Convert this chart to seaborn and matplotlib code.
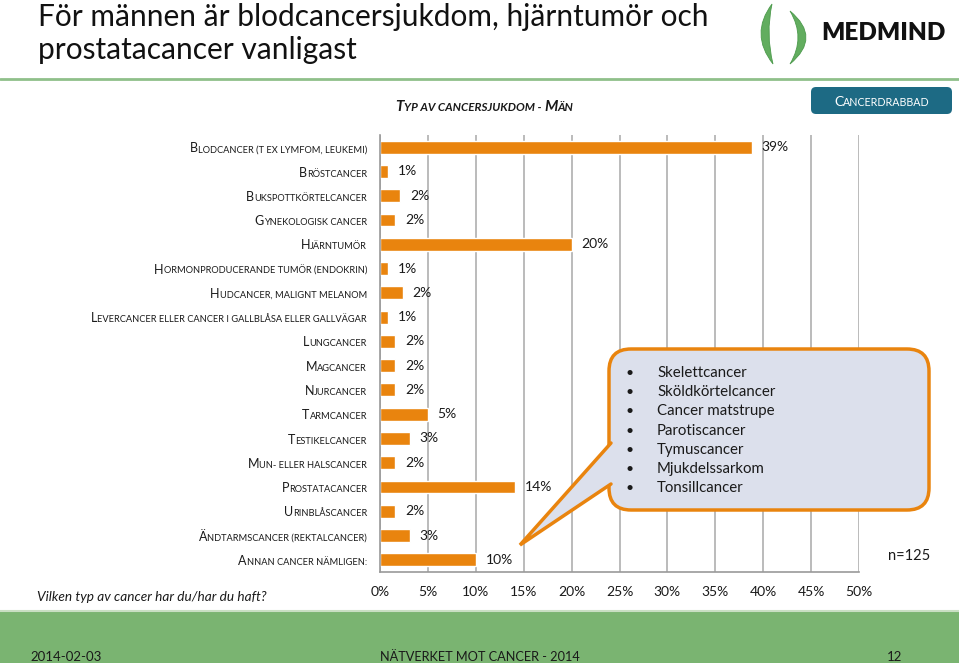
import numpy as np
import pandas as pd
import matplotlib
matplotlib.use('Agg')
import matplotlib.pyplot as plt
import matplotlib.patches as mpatches
import matplotlib.transforms as mtransforms
from matplotlib.path import Path
import seaborn as sns

# data (andel av männen, %)
categories = ['Blodcancer (t ex lymfom, leukemi)', 'Bröstcancer', 'Bukspottkörtelcancer',
              'Gynekologisk cancer', 'Hjärntumör', 'Hormonproducerande tumör (endokrin)',
              'Hudcancer, malignt melanom', 'Levercancer eller cancer i gallblåsa eller gallvägar',
              'Lungcancer', 'Magcancer', 'Njurcancer', 'Tarmcancer', 'Testikelcancer',
              'Mun- eller halscancer', 'Prostatacancer', 'Urinblåscancer',
              'Ändtarmscancer (rektalcancer)', 'Annan cancer nämligen:']
values = [38.8, 0.8, 2.1, 1.6, 20.0, 0.8, 2.4, 0.8, 1.6, 1.6, 1.6, 5.0, 3.1, 1.6, 14.1, 1.6, 3.1, 10.0]
value_labels = ['39%', '1%', '2%', '2%', '20%', '1%', '2%', '1%', '2%', '2%', '2%', '5%', '3%',
                '2%', '14%', '2%', '3%', '10%']
x_ticks = [0, 5, 10, 15, 20, 25, 30, 35, 40, 45, 50]
x_tick_labels = ['0%', '5%', '10%', '15%', '20%', '25%', '30%', '35%', '40%', '45%', '50%']
other_cancers = ['Skelettcancer', 'Sköldkörtelcancer', 'Cancer matstrupe', 'Parotiscancer',
                 'Tymuscancer', 'Mjukdelssarkom', 'Tonsillcancer']

BAR = '#E9840E'
GRID = '#b5b5b5'
TXT = '#1a1a1a'
W, H = 959, 663

sns.set_style('white')
plt.rcParams['font.family'] = ['Lato', 'DejaVu Sans']

fig = plt.figure(figsize=(W / 100, H / 100), dpi=100)
pix = mtransforms.Affine2D().scale(1 / W, 1 / H) + fig.transFigure  # pixel coords, y up


def runs_of(s):
    # split into (text, big?) runs for small caps
    out = []
    for ch in s:
        big = ch.isupper()
        c = ch.upper()
        if out and out[-1][1] == big:
            out[-1][0] += c
        else:
            out.append([c, big])
    return out


def smallcaps(ax, x, y, s, big, small, transform, ha='left', **kw):
    parts = runs_of(s)
    if ha == 'right':
        parts = parts[::-1]
    prev = None
    prev_space = False
    for txt, isbig in parts:
        size = big if isbig else small
        off = small * 0.26 if (ha == 'left' and prev_space) else 0
        prev_space = txt.endswith(' ')
        if ha == 'left':
            txt = txt.rstrip(' ')
        if prev is None:
            prev = ax.text(x, y, txt, transform=transform, ha=ha, va='baseline',
                           fontsize=size, **kw)
        else:
            prev = ax.annotate(txt, xy=(1 if ha == 'left' else 0, y),
                               xycoords=(prev, transform), xytext=(off, 0),
                               textcoords='offset points', ha=ha, va='baseline',
                               fontsize=size, annotation_clip=False, **kw)
    return prev


# ---------- chart ----------
ax = fig.add_axes([380 / W, 1 - 572 / H, 479 / W, 437 / H])
df = pd.DataFrame({'typ': categories, 'andel': values})
sns.barplot(data=df, x='andel', y='typ', orient='h', color=BAR, saturation=1,
            width=0.53, ax=ax)
ax.set_xlim(0, 50)
ax.set_xlabel('')
ax.set_ylabel('')
ax.set_xticks(x_ticks)
ax.set_xticklabels(x_tick_labels)
ax.set_yticks(range(len(categories)))
ax.set_yticklabels([])
ax.set_yticks(np.arange(-0.5, len(categories)), minor=True)
ax.tick_params(axis='y', which='major', length=0)
ax.tick_params(axis='y', which='minor', length=5, width=1.2, color='#9a9a9a', direction='out')
ax.tick_params(axis='x', length=5, width=1.2, color='#9a9a9a', direction='out',
               labelsize=10, labelcolor=TXT, pad=5)
ax.xaxis.grid(True, color=GRID, lw=1.3)
ax.set_axisbelow(True)
for side in ['top', 'right']:
    ax.spines[side].set_visible(False)
for side in ['left', 'bottom']:
    ax.spines[side].set_color('#9a9a9a')
    ax.spines[side].set_linewidth(1.2)

ax.bar_label(ax.containers[0], labels=value_labels, padding=7, fontsize=10, color=TXT)

ytr = mtransforms.blended_transform_factory(ax.transAxes, ax.transData)
for i, cat in enumerate(categories):
    smallcaps(ax, -13 / 479, i + 0.21, cat, 9, 6.7, ytr, ha='right', color=TXT)

# ---------- callout ----------
face = '#DCE0EC'
edge = '#E9840E'
box = mpatches.FancyBboxPatch((609, H - 510), 320, 161, boxstyle='round,pad=0,rounding_size=22',
                              transform=pix, fc=face, ec=edge, lw=2.5, zorder=5)
fig.patches.append(box)
wedge = mpatches.Polygon([(612, H - 443), (520, H - 545), (612, H - 484)], closed=True,
                         transform=pix, fc=face, ec='none', zorder=6)
fig.patches.append(wedge)
fig.lines.append(plt.Line2D([611, 520, 611], [H - 443, H - 545, H - 484], transform=pix,
                            color=edge, lw=2.5, zorder=7, solid_joinstyle='miter'))
for k, name in enumerate(other_cancers):
    yy = H - (373 + k * 19.2)
    fig.text(630 / W, yy / H, '•', ha='center', va='center', fontsize=10, color=TXT, zorder=8)
    fig.text(657 / W, yy / H, name, ha='left', va='center', fontsize=10.8, color=TXT, zorder=8)

fig.text(909 / W, 1 - 556 / H, 'n=125', ha='center', va='center', fontsize=10.5, color=TXT)
fig.text(37 / W, 1 - 597 / H, 'Vilken typ av cancer har du/har du haft?', ha='left',
         va='center', fontsize=9.8, style='italic', color=TXT)

# ---------- header ----------
fig.text(38 / W, 1 - 33.5 / H, 'För männen är blodcancersjukdom, hjärntumör och\nprostatacancer vanligast',
         ha='left', va='center', fontsize=21.5, color='#111111', linespacing=1.2)
fig.lines.append(plt.Line2D([0, W], [H - 79, H - 79], transform=pix, color='#8fc08a', lw=2))
fig.text(821 / W, 1 - 33.5 / H, 'MEDMIND', ha='left', va='center', fontsize=17.5,
         fontweight='heavy', color='#111111')


def crescent(x0, y0, x1, y1, c_out, c_in):
    verts = [(x0, H - y0), (c_out, H - (y0 + y1) / 2), (x1, H - y1),
             (c_in, H - (y0 + y1) / 2), (x0, H - y0), (x0, H - y0)]
    codes = [Path.MOVETO, Path.CURVE3, Path.CURVE3, Path.CURVE3, Path.CURVE3, Path.CLOSEPOLY]
    return mpatches.PathPatch(Path(verts, codes), transform=pix, fc='#62ad5f', ec='#4c9a4c', lw=0.6)


fig.patches.append(crescent(772, 4, 773, 64, 2 * 761 - 772.5, 2 * 769 - 772.5))
fig.patches.append(crescent(790, 11, 790, 64, 2 * 806 - 790, 2 * 798 - 790))

btn = mpatches.FancyBboxPatch((811, H - 114), 141, 27, boxstyle='round,pad=0,rounding_size=5',
                              transform=pix, fc='#1d6a84', ec='none', zorder=-1)
fig.patches.append(btn)
smallcaps(ax, 834, H - 105.5, 'Cancerdrabbad', 10, 7.7, pix, ha='left', color='white')
smallcaps(ax, 395, H - 111, 'Typ av cancersjukdom - Män', 11, 8.4, pix, ha='left',
          color=TXT, style='italic', fontweight='bold')

# ---------- footer ----------
fig.patches.append(mpatches.Rectangle((0, 0), W, H - 611, transform=pix, fc='#7ab471', ec='none'))
fig.lines.append(plt.Line2D([0, W], [H - 611, H - 611], transform=pix, color='#c9dfc3', lw=1.5))
fig.text(30 / W, 1 - 657 / H, '2014-02-03', ha='left', va='center', fontsize=9.5, color=TXT)
fig.text(480 / W, 1 - 657 / H, 'NÄTVERKET MOT CANCER - 2014', ha='center', va='center',
         fontsize=9.2, color=TXT)
fig.text(895 / W, 1 - 657 / H, '12', ha='center', va='center', fontsize=9.5, color=TXT)

fig.savefig('out.png', dpi=100)
